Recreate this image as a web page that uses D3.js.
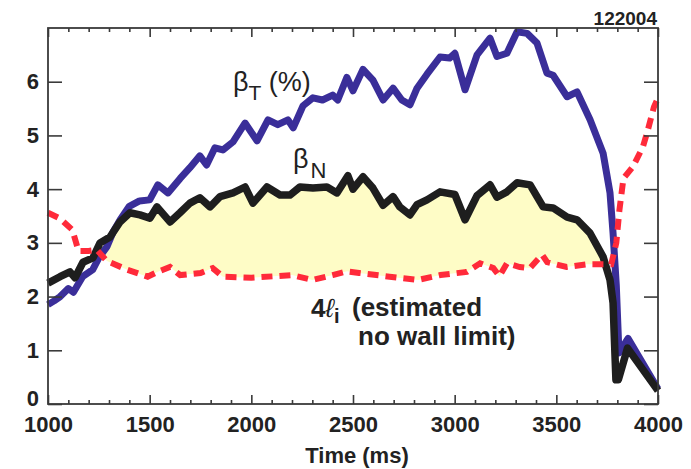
<!DOCTYPE html>
<html>
<head>
<meta charset="utf-8">
<script src="https://cdn.jsdelivr.net/npm/d3@7"></script>
<style>
  html, body { margin: 0; padding: 0; background: #fff; }
  svg { display: block; font-family: "Liberation Sans", Arial, Helvetica, sans-serif; }
</style>
</head>
<body>
<svg id="chart" width="691" height="469"></svg>
<script>
// ---------- data ----------
const betaT_time = [1000,1030,1060,1100,1125,1170,1220,1250,1290,1320,1355,1400,1450,1500,1540,1590,1650,1698,1747,1780,1821,1860,1910,1969,2028,2082,2130,2180,2206,2254,2303,2350,2400,2425,2470,2500,2549,2598,2648,2697,2740,2780,2815,2864,2928,2975,3001,3051,3110,3174,3208,3257,3307,3356,3405,3454,3484,3553,3602,3666,3730,3764,3779,3795,3808,3853,4000];
const betaT      = [1.85,1.92,2.0,2.15,2.08,2.37,2.5,2.72,2.93,3.2,3.43,3.68,3.78,3.8,4.08,3.93,4.2,4.4,4.62,4.45,4.77,4.73,4.88,5.23,4.9,5.29,5.2,5.29,5.14,5.55,5.7,5.66,5.75,5.66,6.08,5.83,6.23,6.03,5.66,5.88,5.66,5.57,5.88,6.14,6.46,6.44,6.53,5.85,6.5,6.81,6.47,6.53,6.93,6.9,6.72,6.16,6.12,5.72,5.81,5.29,4.67,3.93,3.18,2.2,0.95,1.22,0.28];

const betaN_time = [1000,1059,1108,1133,1172,1221,1256,1305,1354,1403,1452,1501,1536,1600,1649,1698,1747,1797,1846,1910,1969,2008,2077,2141,2190,2239,2303,2372,2421,2475,2500,2549,2598,2648,2697,2730,2780,2815,2864,2928,3001,3051,3110,3174,3208,3257,3307,3371,3435,3484,3553,3602,3666,3730,3764,3779,3793,3805,3850,4000];
const betaN      = [2.25,2.37,2.46,2.35,2.64,2.72,3.0,3.11,3.39,3.56,3.52,3.46,3.67,3.39,3.56,3.74,3.84,3.67,3.86,3.93,4.04,3.74,4.04,3.89,3.89,4.04,4.02,4.04,3.93,4.25,4.0,4.23,4.02,3.7,3.86,3.67,3.52,3.71,3.8,3.95,3.9,3.43,3.88,4.08,3.85,3.95,4.12,4.08,3.67,3.65,3.48,3.43,3.18,2.74,2.31,1.88,0.45,0.45,1.04,0.25];

const li4_time = [1000,1060,1120,1150,1200,1240,1290,1390,1490,1540,1600,1650,1750,1810,1860,2000,2200,2300,2400,2470,2530,2680,2820,2930,3060,3125,3190,3220,3257,3320,3370,3430,3455,3550,3650,3770,3795,3810,3830,3877,3926,3950,3980,4000];
const li4      = [3.56,3.45,3.24,2.85,2.85,2.87,2.66,2.5,2.37,2.46,2.55,2.4,2.44,2.53,2.37,2.35,2.4,2.31,2.4,2.47,2.44,2.37,2.31,2.4,2.46,2.62,2.53,2.38,2.62,2.55,2.53,2.78,2.64,2.55,2.6,2.6,3.0,3.6,4.2,4.42,4.79,5.1,5.53,5.7];

const xTickMajor = [1000,1500,2000,2500,3000,3500,4000];
const xTickMinor = d3.range(1100, 4000, 100).filter(v => v % 500 !== 0);
const yTicks = [0,1,2,3,4,5,6];

// ---------- layout ----------
const svg = d3.select("#chart");
const x = d3.scaleLinear().domain([1000, 4000]).range([48, 658]);
const y = d3.scaleLinear().domain([0, 7]).range([404, 28]);

const toPts = (ts, vs) => ts.map((t, i) => [t, vs[i]]);
const ptsT = toPts(betaT_time, betaT);
const ptsN = toPts(betaN_time, betaN);
const ptsL = toPts(li4_time, li4);

const defs = svg.append("defs");
// region above the 4li curve
defs.append("clipPath").attr("id", "aboveLi")
  .append("path")
  .attr("d", d3.area().x(d => x(d[0])).y0(y(7)).y1(d => y(d[1]))(ptsL));

// fill between betaN and 4li where betaN > 4li
svg.append("path")
  .attr("clip-path", "url(#aboveLi)")
  .attr("fill", "#fefcc6")
  .attr("d", d3.area().x(d => x(d[0])).y0(y(0)).y1(d => y(d[1]))(ptsN));

const line = d3.line().x(d => x(d[0])).y(d => y(d[1]));

svg.append("path").attr("d", line(ptsT))
  .attr("fill", "none").attr("stroke", "#3a2e99").attr("stroke-width", 7)
  .attr("stroke-linejoin", "round");

svg.append("path").attr("d", line(ptsN))
  .attr("fill", "none").attr("stroke", "#1e1e1e").attr("stroke-width", 7.5)
  .attr("stroke-linejoin", "round");

svg.append("path").attr("d", line(ptsL))
  .attr("fill", "none").attr("stroke", "#ff2a3a").attr("stroke-width", 6)
  .attr("stroke-dasharray", "11,7");

// ---------- axes ----------
const axisColor = "#3a3a3a";
function styleAxis(g, fontSize) {
  g.select(".domain").remove();
  g.selectAll(".tick line").attr("stroke", axisColor).attr("stroke-width", 1.6);
  g.selectAll(".tick text")
    .attr("fill", "#222")
    .attr("font-size", fontSize)
    .attr("font-weight", "bold")
    .attr("font-family", "'Liberation Sans', Arial, sans-serif");
}

const gxb = svg.append("g").attr("transform", `translate(0,${y(0)})`)
  .call(d3.axisBottom(x).tickValues(xTickMajor).tickSizeInner(-9).tickSizeOuter(0).tickPadding(12).tickFormat(d3.format("d")));
styleAxis(gxb, 22);
const gxbm = svg.append("g").attr("transform", `translate(0,${y(0)})`)
  .call(d3.axisBottom(x).tickValues(xTickMinor).tickSizeInner(-4).tickSizeOuter(0).tickFormat(""));
styleAxis(gxbm, 22);

const gxt = svg.append("g").attr("transform", `translate(0,${y(7)})`)
  .call(d3.axisTop(x).tickValues(xTickMajor).tickSizeInner(-9).tickSizeOuter(0).tickFormat(""));
styleAxis(gxt, 22);
const gxtm = svg.append("g").attr("transform", `translate(0,${y(7)})`)
  .call(d3.axisTop(x).tickValues(xTickMinor).tickSizeInner(-4).tickSizeOuter(0).tickFormat(""));
styleAxis(gxtm, 22);

const gyl = svg.append("g").attr("transform", `translate(${x(1000)},0)`)
  .call(d3.axisLeft(y).tickValues(yTicks).tickSizeInner(-14).tickSizeOuter(0).tickPadding(9).tickFormat(d3.format("d")));
styleAxis(gyl, 22);
gyl.selectAll(".tick text").filter(d => d === 0).attr("dy", "0.05em");

const gyr = svg.append("g").attr("transform", `translate(${x(4000)},0)`)
  .call(d3.axisRight(y).tickValues(yTicks).tickSizeInner(-14).tickSizeOuter(0).tickFormat(""));
styleAxis(gyr, 22);

// frame
svg.append("rect")
  .attr("x", x(1000)).attr("y", y(7))
  .attr("width", x(4000) - x(1000)).attr("height", y(0) - y(7))
  .attr("fill", "none").attr("stroke", axisColor).attr("stroke-width", 1.8);

// ---------- labels ----------
svg.append("text").attr("x", 357).attr("y", 463)
  .attr("text-anchor", "middle").attr("font-size", 22).attr("font-weight", "bold").attr("fill", "#222")
  .text("Time (ms)");

svg.append("text").attr("x", 657).attr("y", 25)
  .attr("text-anchor", "end").attr("font-size", 19).attr("font-weight", "bold").attr("fill", "#222")
  .text("122004");

const bt = svg.append("text").attr("x", 233).attr("y", 91).attr("font-size", 27).attr("fill", "#222");
bt.append("tspan").text("β");
bt.append("tspan").attr("font-size", 21).attr("dy", 9).text("T");
bt.append("tspan").attr("dy", -9).text(" (%)");

const bn = svg.append("text").attr("x", 293).attr("y", 168).attr("font-size", 27).attr("fill", "#222");
bn.append("tspan").text("β");
bn.append("tspan").attr("font-size", 22).attr("dy", 10).attr("dx", 2).text("N");

const li = svg.append("text").attr("x", 311).attr("y", 317).attr("font-size", 26).attr("font-weight", "bold").attr("fill", "#222");
li.append("tspan").text("4");
li.append("tspan").attr("font-weight", "normal").attr("font-style", "italic").text("ℓ");
li.append("tspan").attr("font-size", 20).attr("dy", 6).text("i");

svg.append("text").attr("x", 352).attr("y", 316)
  .attr("font-size", 26).attr("font-weight", "bold").attr("fill", "#222").text("(estimated");
svg.append("text").attr("x", 358).attr("y", 345)
  .attr("font-size", 26).attr("font-weight", "bold").attr("fill", "#222").text("no wall limit)");
</script>
</body>
</html>
